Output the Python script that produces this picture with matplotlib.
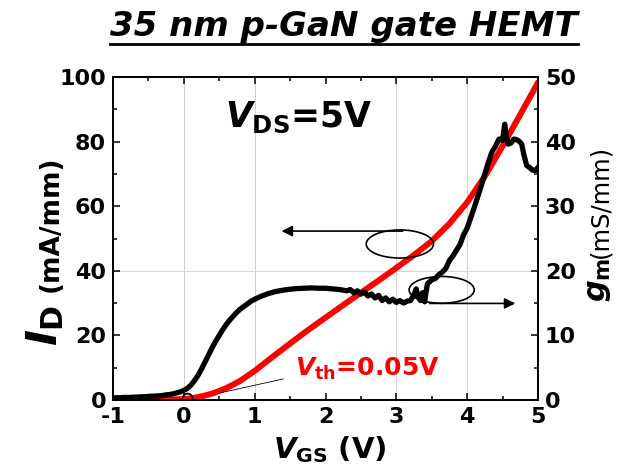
import matplotlib
matplotlib.use("Agg")
import matplotlib.pyplot as plt
from matplotlib.patches import Ellipse
from matplotlib.lines import Line2D
from matplotlib.ticker import MultipleLocator

plt.rcParams['font.family'] = ['DejaVu Sans']
plt.rcParams['font.weight'] = 'bold'
plt.rcParams['axes.unicode_minus'] = False
plt.rcParams['mathtext.fontset'] = 'custom'
plt.rcParams['mathtext.rm'] = 'DejaVu Sans:bold'
plt.rcParams['mathtext.it'] = 'DejaVu Sans:italic:bold'
plt.rcParams['mathtext.bf'] = 'DejaVu Sans:bold'

# ---- data ----
vgs_id = [-1.0, -0.5, -0.25, 0.0, 0.1, 0.2, 0.3, 0.4, 0.5, 0.6, 0.7, 0.8, 0.9, 1.0,
          1.25, 1.5, 1.75, 2.0, 2.25, 2.5, 2.75, 3.0, 3.25, 3.5, 3.75, 4.0, 4.25,
          4.5, 4.75, 5.0]
id_ma = [0.0, 0.05, 0.1, 0.3, 0.5, 0.9, 1.4, 2.0, 2.8, 3.7, 4.8, 6.0, 7.5, 9.0,
         13.3, 17.5, 21.6, 25.5, 29.4, 33.2, 37.0, 40.9, 44.9, 49.2, 54.6, 61.2,
         69.3, 78.6, 88.4, 98.3]

vgs_gm = [-1.00, -0.95, -0.90, -0.85, -0.80, -0.75, -0.70, -0.65, -0.60, -0.55,
          -0.50, -0.45, -0.40, -0.35, -0.30, -0.25, -0.20, -0.15, -0.10, -0.05,
          0.00, 0.05, 0.10, 0.15, 0.20, 0.25, 0.30, 0.35, 0.40, 0.45,
          0.50, 0.55, 0.60, 0.65, 0.70, 0.75, 0.80, 0.85, 0.90, 0.95,
          1.00, 1.10, 1.20, 1.30, 1.40, 1.50, 1.60, 1.70, 1.80, 1.90,
          2.00, 2.10, 2.20, 2.30, 2.35, 2.40, 2.45, 2.50, 2.55, 2.60,
          2.65, 2.70, 2.75, 2.80, 2.85, 2.90, 2.95, 3.00, 3.05, 3.10,
          3.15, 3.20, 3.25, 3.28, 3.31, 3.34, 3.37, 3.40, 3.42, 3.44,
          3.47, 3.50, 3.55, 3.60, 3.65, 3.70, 3.75, 3.80, 3.85, 3.90,
          3.95, 4.00, 4.05, 4.10, 4.15, 4.20, 4.25, 4.30, 4.35, 4.40,
          4.45, 4.50, 4.53, 4.55, 4.58, 4.62, 4.66, 4.70, 4.74, 4.77,
          4.80, 4.84, 4.88, 4.92, 4.96, 5.00]
gm_ms = [0.35, 0.35, 0.35, 0.4, 0.4, 0.4, 0.45, 0.45, 0.5, 0.5,
         0.55, 0.6, 0.6, 0.65, 0.7, 0.8, 0.85, 0.95, 1.1, 1.25,
         1.5, 1.8, 2.3, 3.0, 3.8, 4.8, 5.9, 7.0, 8.1, 9.1,
         10.0, 10.9, 11.7, 12.4, 13.0, 13.6, 14.1, 14.5, 14.9, 15.3,
         15.6, 16.1, 16.5, 16.8, 17.0, 17.15, 17.25, 17.3, 17.35, 17.3,
         17.3, 17.2, 17.1, 16.9, 17.1, 16.6, 16.9, 16.4, 16.7, 16.1,
         16.4, 15.8, 16.2, 15.4, 15.8, 15.2, 15.6, 15.1, 15.4, 15.0,
         15.3, 15.4, 16.3, 17.2, 15.9, 15.4, 16.6, 15.2, 16.8, 18.0,
         18.3, 18.6, 18.8, 19.4, 19.8, 20.4, 21.6, 22.3, 23.2, 24.1,
         25.6, 26.6, 28.2, 29.8, 31.5, 33.2, 35.0, 36.8, 38.4, 39.3,
         40.4, 40.2, 42.7, 41.0, 39.6, 39.8, 40.4, 40.3, 40.0, 39.6,
         38.0, 36.3, 36.0, 35.6, 35.5, 36.0]

vth = 0.05
grid_x = [0, 1, 3, 4]
grid_y = [40]

title = "35 nm p-GaN gate HEMT"

# ---- figure ----
W, H = 630, 466
fig = plt.figure(figsize=(6.3, 4.66), dpi=100)
fig.patch.set_facecolor('white')
ax = fig.add_axes([113 / W, 1 - 400 / H, (538 - 113) / W, (400 - 77) / H])
ax2 = ax.twinx()

for gx in grid_x:
    ax.axvline(gx, color='#cfcfd6', lw=0.7, zorder=0)
for gy in grid_y:
    ax.axhline(gy, color='#dcd0d0', lw=0.7, zorder=0)

ax.plot(vgs_id, id_ma, color='#ff0000', lw=4.3, solid_capstyle='round', zorder=3)
ax2.plot(vgs_gm, gm_ms, color='black', lw=3.8, solid_joinstyle='round', zorder=3)
ax.plot([vth], [0.5], marker='o', ms=7, mfc='none', mec='black', mew=1.3, zorder=5)

ax.set_xlim(-1, 5)
ax.set_ylim(0, 100)
ax2.set_ylim(0, 50)

ax.xaxis.set_major_locator(MultipleLocator(1))
ax.xaxis.set_minor_locator(MultipleLocator(0.5))
ax.yaxis.set_major_locator(MultipleLocator(20))
ax.yaxis.set_minor_locator(MultipleLocator(10))
ax2.yaxis.set_major_locator(MultipleLocator(10))
ax2.yaxis.set_minor_locator(MultipleLocator(5))

ax.tick_params(axis='both', which='both', direction='in', width=1.1)
ax.tick_params(axis='x', which='both', top=True)
ax.tick_params(axis='y', which='both', right=False)
ax.tick_params(which='major', length=5, labelsize=16, pad=5)
ax.tick_params(which='minor', length=3)
ax2.tick_params(axis='y', which='both', direction='in', width=1.1)
ax2.tick_params(which='major', length=5, labelsize=16, pad=5)
ax2.tick_params(which='minor', length=3)
for a in (ax, ax2):
    for s in a.spines.values():
        s.set_linewidth(1.3)
for lab in ax.get_xticklabels() + ax.get_yticklabels() + ax2.get_yticklabels():
    lab.set_fontweight('bold')

# annotations
ax.text(0.58, 84.5, r'$V_{\rm DS}$=5V', fontsize=25, fontweight='bold', color='black')
ax.text(1.57, 7.5, r'$V_{\rm th}$=0.05V', fontsize=18, fontweight='bold', color='#ff0000')
ax.plot([1.40, 0.51], [6.5, 2.2], color='black', lw=0.6, zorder=4)

ax.add_patch(Ellipse((3.05, 48.3), 0.95, 8.7, fill=False, ec='black', lw=1.2, zorder=4))
ax.annotate('', xy=(1.38, 52.3), xytext=(3.09, 52.3),
            arrowprops=dict(arrowstyle='-|>', color='black', lw=1.2,
                            mutation_scale=16, shrinkA=0, shrinkB=0))
ax.add_patch(Ellipse((3.64, 34.1), 0.92, 8.3, fill=False, ec='black', lw=1.2, zorder=4))
ax.annotate('', xy=(4.68, 29.9), xytext=(3.47, 29.9),
            arrowprops=dict(arrowstyle='-|>', color='black', lw=1.2,
                            mutation_scale=16, shrinkA=0, shrinkB=0))

# axis labels
fig.text(330 / W, 1 - 458 / H, r'$V_{\rm GS}$ (V)', fontsize=21, fontweight='bold',
         ha='center', va='baseline')
fig.text(57 / W, 1 - 346 / H, r'$I_{\rm D}$', fontsize=31, rotation=90,
         rotation_mode='anchor', ha='left', va='baseline')
fig.text(58 / W, 1 - 292 / H, '(mA/mm)', fontsize=19, fontweight='bold', rotation=90,
         rotation_mode='anchor', ha='left', va='baseline')
fig.text(605 / W, 1 - 302 / H, r'$g_{\rm m}$', fontsize=22, rotation=90,
         rotation_mode='anchor', ha='left', va='baseline')
fig.text(607 / W, 1 - 258 / H, '(mS/mm)', fontsize=17.5, fontweight='normal', rotation=90,
         rotation_mode='anchor', ha='left', va='baseline')

# title with underline
t = fig.text(344 / W, 1 - 36 / H, title, fontsize=24.5, fontweight='bold',
             fontstyle='italic', ha='center', va='baseline')
fig.canvas.draw()
bb = t.get_window_extent()
fig.add_artist(Line2D([bb.x0 / W, bb.x1 / W], [1 - 44 / H, 1 - 44 / H],
                      color='black', lw=2, transform=fig.transFigure))

fig.savefig('out.png', dpi=100)
